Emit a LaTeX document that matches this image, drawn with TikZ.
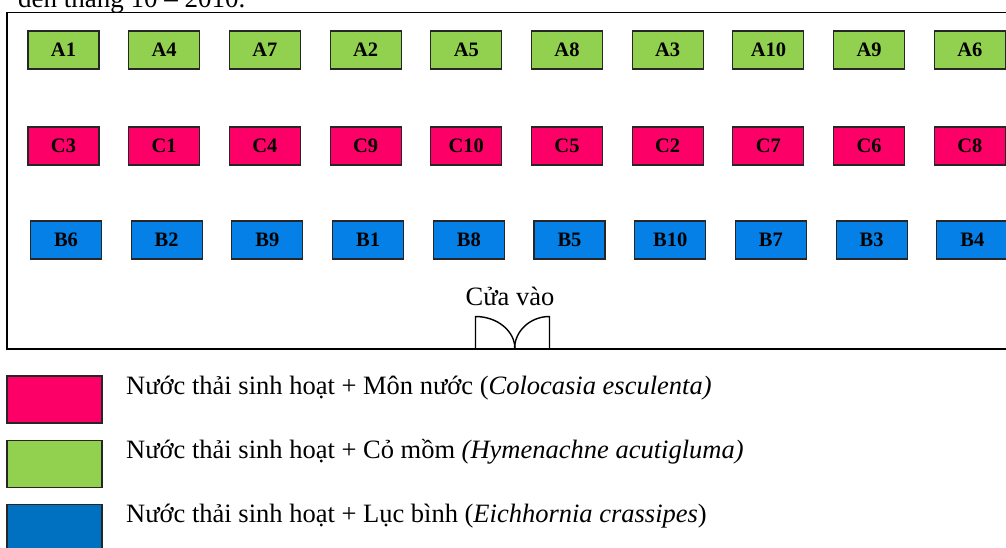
\documentclass[tikz,border=0pt]{standalone}
\usepackage{fontspec}
\setmainfont{Liberation Serif}
\definecolor{pinkc}{HTML}{FC0068}
\definecolor{greenc}{HTML}{92D050}
\definecolor{bluec}{HTML}{0580E6}
\definecolor{bluel}{HTML}{0070C0}
\begin{document}
\begin{tikzpicture}[x=1pt,y=-1pt,
  plot/.style={draw=black!85,line width=1.1pt,minimum width=71pt,minimum height=38pt,inner sep=0pt,font=\fontsize{20.5}{24}\selectfont\bfseries},
  legbox/.style={draw=black!85,line width=1.1pt,minimum width=95pt,minimum height=47pt,inner sep=0pt},
  legtext/.style={anchor=west,inner sep=0pt,font=\fontsize{26.5}{31}\selectfont},
  frame/.style={line width=1.6pt}]
\useasboundingbox (0,0) rectangle (1006,547);
% cut-off caption line
\node[anchor=base west,inner sep=0pt,font=\fontsize{27}{31}\selectfont] (cap) at (18,7) {đến tháng 10 – 2010.};
% frame
\draw[frame] (1012,12.5) -- (6.8,12.5) -- (6.8,349) -- (1012,349);
% plots
\foreach \n [count=\i from 0] in {A1,A4,A7,A2,A5,A8,A3,A10,A9,A6}
  \node[plot,fill=greenc] (\n) at ({63.5+100.7*\i},50) {\n};
\foreach \n [count=\i from 0] in {C3,C1,C4,C9,C10,C5,C2,C7,C6,C8}
  \node[plot,fill=pinkc] (\n) at ({63.5+100.7*\i},146) {\n};
\foreach \n [count=\i from 0] in {B6,B2,B9,B1,B8,B5,B10,B7,B3,B4}
  \node[plot,fill=bluec] (\n) at ({66+100.7*\i},240) {\n};
% door
\coordinate (dl) at (475.5,349);
\coordinate (dr) at (549.5,349);
\draw[line width=1.4pt] (dl) -- ++(0,-32.5) arc[start angle=90,end angle=0,x radius=39.5,y radius=-32.5];
\draw[line width=1.4pt] (dr) -- ++(0,-32.5) arc[start angle=90,end angle=180,x radius=35,y radius=-32.5];
\node[inner sep=0pt,font=\fontsize{26.5}{31}\selectfont,anchor=base] (door) at (510,305) {Cửa vào};
% legend
\node[legbox,fill=pinkc] (L1) at (54.5,399.5) {};
\node[legbox,fill=greenc] (L2) at (54.5,464) {};
\node[legbox,fill=bluel] (L3) at (54.5,528) {};
\node[legtext] (T1) at (126,388) {Nước thải sinh hoạt + Môn nước (\textit{Colocasia esculenta)}};
\node[legtext] (T2) at (126,452) {Nước thải sinh hoạt + Cỏ mồm \textit{(Hymenachne acutigluma)}};
\node[legtext] (T3) at (126,516) {Nước thải sinh hoạt + Lục bình (\textit{Eichhornia crassipes})};
\end{tikzpicture}
\end{document}
